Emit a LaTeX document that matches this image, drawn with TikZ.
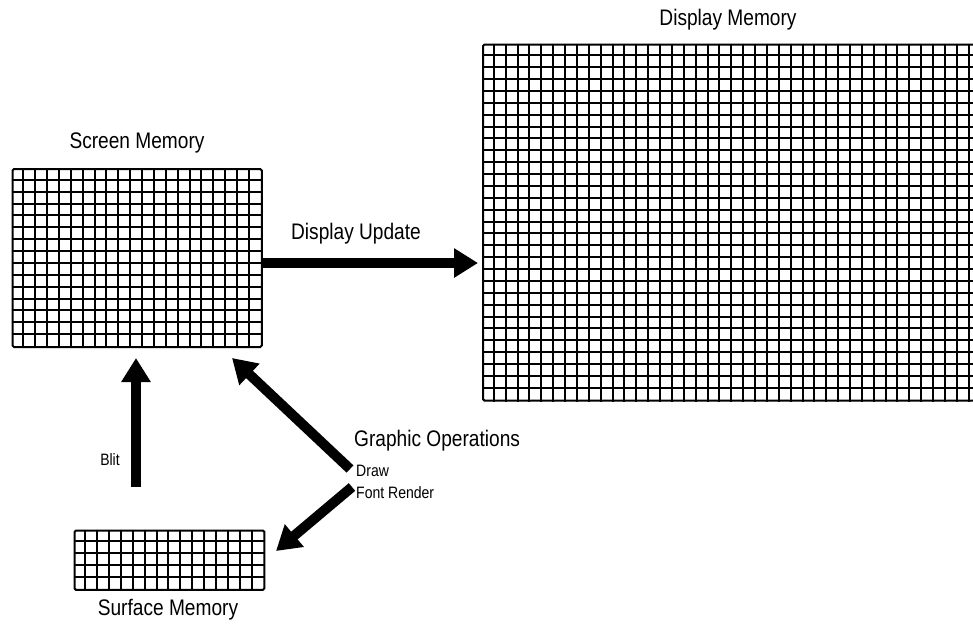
\documentclass[tikz,border=0pt]{standalone}
\usepackage{fontspec}
\setmainfont{Liberation Sans}[FakeStretch=0.85]
\usetikzlibrary{arrows.meta}
\def\cell{11.87pt}
\tikzset{
  memblock/.style={draw,line width=2pt,rounded corners=1.5pt,inner sep=0pt,anchor=north west},
  gridline/.style={line width=2pt},
  biglabel/.style={font=\fontsize{22.5}{26}\selectfont,inner sep=0pt},
  smalllabel/.style={font=\fontsize{16.5}{19}\selectfont,inner sep=0pt},
  bigarrow/.style={line width=10pt,-{Triangle[width=28pt,length=24pt]}},
}
\begin{document}
\begin{tikzpicture}[x=1pt,y=-1pt]
        \useasboundingbox (0,0) rectangle (973,625);
        % screen memory
        \node[memblock,minimum width=21*\cell,minimum height=15*\cell] (scr) at (11.5,168) {};
        \foreach \i in {1,...,20}
          \draw[gridline] ([xshift=\i*\cell]scr.north west) -- ([xshift=\i*\cell]scr.south west);
        \foreach \j in {1,...,14}
          \draw[gridline] ([yshift=-\j*\cell]scr.north west) -- ([yshift=-\j*\cell]scr.north east);
        \node[biglabel] (scrlbl) at (137,143) {Screen Memory};
        % surface memory
        \node[memblock,minimum width=16*\cell,minimum height=5*\cell] (srf) at (73.5,529.5) {};
        \foreach \i in {1,...,15}
          \draw[gridline] ([xshift=\i*\cell]srf.north west) -- ([xshift=\i*\cell]srf.south west);
        \foreach \j in {1,...,4}
          \draw[gridline] ([yshift=-\j*\cell]srf.north west) -- ([yshift=-\j*\cell]srf.north east);
        \node[biglabel] (srflbl) at (168,610) {Surface Memory};
        % display memory
        \node[memblock,minimum width=42*\cell,minimum height=30*\cell] (dsp) at (482,43.5) {};
        \foreach \i in {1,...,41}
          \draw[gridline] ([xshift=\i*\cell]dsp.north west) -- ([xshift=\i*\cell]dsp.south west);
        \foreach \j in {1,...,29}
          \draw[gridline] ([yshift=-\j*\cell]dsp.north west) -- ([yshift=-\j*\cell]dsp.north east);
        \node[biglabel] (dsplbl) at (728,20) {Display Memory};
        % arrows
        \coordinate (upd0) at (263,263);
        \coordinate (upd1) at (478,263);
        \draw[bigarrow] (upd0) -- (upd1);
        \node[biglabel] (updlbl) at (356,234) {Display Update};
        \coordinate (blit0) at (136,487);
        \coordinate (blit1) at (136,358);
        \draw[bigarrow] (blit0) -- (blit1);
        \node[smalllabel] (blitlbl) at (110,460) {Blit};
        \coordinate (drw0) at (350,469);
        \coordinate (drw1) at (232,358);
        \draw[bigarrow] (drw0) -- (drw1);
        \coordinate (fnt0) at (352,487);
        \coordinate (fnt1) at (276,551);
        \draw[bigarrow] (fnt0) -- (fnt1);
        \node[biglabel,anchor=west] (gfxlbl) at (354,441) {Graphic Operations};
        \node[smalllabel,anchor=west] (drwlbl) at (356,471) {Draw};
        \node[smalllabel,anchor=west] (fntlbl) at (356,493) {Font Render};
\end{tikzpicture}
\end{document}
